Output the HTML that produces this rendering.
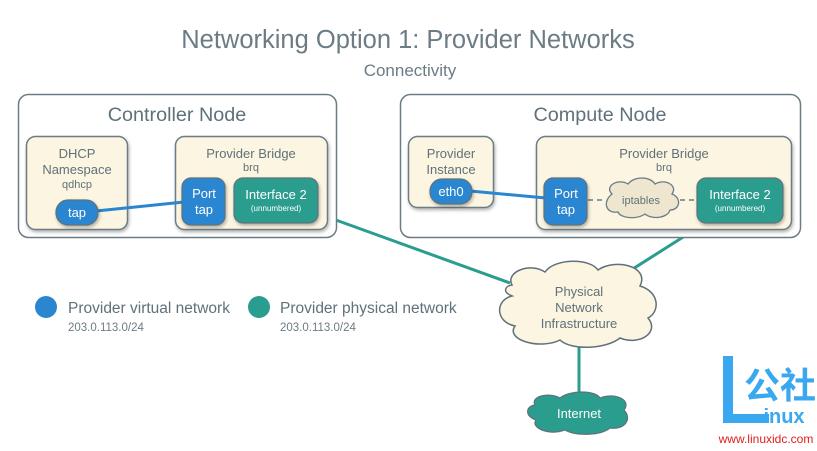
<!DOCTYPE html>
<html><head><meta charset="utf-8"><style>body{margin:0;background:#fff}svg{display:block}text{font-family:"Liberation Sans","Noto Sans CJK SC",sans-serif}</style></head><body>
<svg width="817" height="451" viewBox="0 0 817 451" xmlns="http://www.w3.org/2000/svg">
<defs><filter id="s" x="-20%" y="-20%" width="140%" height="140%"><feDropShadow dx="1" dy="2" stdDeviation="1.5" flood-color="#000" flood-opacity="0.3"/></filter></defs>
<text x="408" y="48" font-size="25.5" fill="#6b7c85" text-anchor="middle">Networking Option 1: Provider Networks</text>
<text x="410" y="76" font-size="17" fill="#6b7c85" text-anchor="middle">Connectivity</text>
<line x1="322" y1="215" x2="510" y2="283" stroke="#2a9d8f" stroke-width="3"/>
<line x1="710" y1="220" x2="628" y2="272" stroke="#2a9d8f" stroke-width="3"/>
<line x1="579" y1="340" x2="579" y2="400" stroke="#2a9d8f" stroke-width="3"/>
<rect x="18.5" y="94.5" width="318" height="143" rx="10" fill="#fff" stroke="#6b7c85" stroke-width="1.5"/>
<text x="177" y="121" font-size="19.8" fill="#5f717a" text-anchor="middle">Controller Node</text>
<rect x="26.5" y="136.5" width="101" height="93" rx="9" fill="#fcf5e1" stroke="#6b7c85" stroke-width="1.5" filter="url(#s)"/>
<text x="77" y="158" font-size="13" fill="#5f717a" text-anchor="middle">DHCP</text>
<text x="77" y="174" font-size="13" fill="#5f717a" text-anchor="middle">Namespace</text>
<text x="77" y="188" font-size="11" fill="#5f717a" text-anchor="middle">qdhcp</text>
<rect x="175.5" y="136.5" width="152" height="93" rx="9" fill="#fcf5e1" stroke="#6b7c85" stroke-width="1.5" filter="url(#s)"/>
<text x="251" y="158" font-size="13" fill="#5f717a" text-anchor="middle">Provider Bridge</text>
<text x="251" y="171" font-size="11" fill="#5f717a" text-anchor="middle">brq</text>
<line x1="96" y1="211" x2="184" y2="202" stroke="#2a86d0" stroke-width="3"/>
<rect x="56" y="200" width="42" height="25" rx="12" fill="#2a86d0" stroke="#5f717a" stroke-width="1.2" filter="url(#s)"/>
<text x="77" y="217" font-size="13" fill="#fff" text-anchor="middle">tap</text>
<rect x="182" y="178" width="43" height="47" rx="9" fill="#2a86d0" stroke="#5f717a" stroke-width="1.2" filter="url(#s)"/>
<text x="204" y="198" font-size="13" fill="#fff" text-anchor="middle">Port</text>
<text x="204" y="214" font-size="13" fill="#fff" text-anchor="middle">tap</text>
<rect x="234" y="178" width="84" height="45" rx="9" fill="#2a9d8f" stroke="#5f717a" stroke-width="1.2" filter="url(#s)"/>
<text x="276" y="199" font-size="13" fill="#fff" text-anchor="middle">Interface 2</text>
<text x="276" y="211" font-size="8" fill="#fff" text-anchor="middle">(unnumbered)</text>
<rect x="400.5" y="94.5" width="400" height="143" rx="10" fill="#fff" stroke="#6b7c85" stroke-width="1.5"/>
<text x="600" y="121" font-size="19.8" fill="#5f717a" text-anchor="middle">Compute Node</text>
<rect x="408.5" y="136.5" width="85" height="71" rx="9" fill="#fcf5e1" stroke="#6b7c85" stroke-width="1.5" filter="url(#s)"/>
<text x="451" y="158" font-size="13" fill="#5f717a" text-anchor="middle">Provider</text>
<text x="451" y="174" font-size="13" fill="#5f717a" text-anchor="middle">Instance</text>
<rect x="536.5" y="136.5" width="255" height="93" rx="9" fill="#fcf5e1" stroke="#6b7c85" stroke-width="1.5" filter="url(#s)"/>
<text x="664" y="158" font-size="13" fill="#5f717a" text-anchor="middle">Provider Bridge</text>
<text x="664" y="171" font-size="11" fill="#5f717a" text-anchor="middle">brq</text>
<line x1="470" y1="191" x2="546" y2="198" stroke="#2a86d0" stroke-width="3"/>
<line x1="588" y1="200" x2="605" y2="200" stroke="#6b7c85" stroke-width="1.5" stroke-dasharray="5,4"/>
<line x1="680" y1="200" x2="697" y2="200" stroke="#6b7c85" stroke-width="1.5" stroke-dasharray="5,4"/>
<rect x="430" y="179" width="42" height="25" rx="12" fill="#2a86d0" stroke="#5f717a" stroke-width="1.2" filter="url(#s)"/>
<text x="451" y="196" font-size="13" fill="#fff" text-anchor="middle">eth0</text>
<rect x="544" y="178" width="43" height="47" rx="9" fill="#2a86d0" stroke="#5f717a" stroke-width="1.2" filter="url(#s)"/>
<text x="566" y="198" font-size="13" fill="#fff" text-anchor="middle">Port</text>
<text x="566" y="214" font-size="13" fill="#fff" text-anchor="middle">tap</text>
<path d="M612,194 C604,186 618,178 628,184 C634,176 650,176 655,184 C666,178 678,186 672,194 C682,198 680,210 670,210 C668,218 652,220 645,214 C636,220 620,218 618,212 C606,214 602,202 612,194 Z" fill="#efe6cf" stroke="#6b7c85" stroke-width="1.3"/>
<text x="641" y="204" font-size="11" fill="#5f717a" text-anchor="middle">iptables</text>
<rect x="697" y="178" width="86" height="45" rx="9" fill="#2a9d8f" stroke="#5f717a" stroke-width="1.2" filter="url(#s)"/>
<text x="740" y="199" font-size="13" fill="#fff" text-anchor="middle">Interface 2</text>
<text x="740" y="211" font-size="8" fill="#fff" text-anchor="middle">(unnumbered)</text>
<path d="M512,285 C505,272 530,262 545,272 C555,258 590,258 598,270 C615,258 650,266 640,286 C660,292 660,312 648,318 C660,332 640,346 620,338 C605,350 570,350 560,340 C540,350 505,340 515,326 C495,322 495,300 512,296 C502,292 505,286 512,285 Z" fill="#fcf5e1" stroke="#5f717a" stroke-width="1.5"/>
<text x="579" y="296" font-size="13" fill="#5f717a" text-anchor="middle">Physical</text>
<text x="579" y="312" font-size="13" fill="#5f717a" text-anchor="middle">Network</text>
<text x="579" y="328" font-size="13" fill="#5f717a" text-anchor="middle">Infrastructure</text>
<path d="M535,405 C530,396 550,392 560,398 C570,390 595,390 600,398 C615,392 632,400 624,410 C632,418 626,430 610,428 C600,436 575,436 565,430 C550,436 530,428 536,420 C524,416 526,406 535,405 Z" fill="#2a9d8f" stroke="#5f717a" stroke-width="1.2"/>
<text x="579" y="418" font-size="13" fill="#fff" text-anchor="middle">Internet</text>
<circle cx="46" cy="307" r="11" fill="#2a86d0"/>
<text x="68" y="313" font-size="15.5" fill="#5f717a">Provider virtual network</text>
<text x="68" y="331" font-size="11.5" fill="#6b7c85">203.0.113.0/24</text>
<circle cx="259" cy="307" r="11" fill="#2a9d8f"/>
<text x="280" y="313" font-size="15.5" fill="#5f717a">Provider physical network</text>
<text x="280" y="331" font-size="11.5" fill="#6b7c85">203.0.113.0/24</text>
<path d="M723,356 h10 v58 h36 v9 h-46 Z" fill="#3aa8f0"/>
<text x="780" y="398" font-size="36" font-weight="bold" fill="#3aa8f0" text-anchor="middle">公社</text>
<text x="784" y="423" font-size="20" font-weight="bold" fill="#3aa8f0" text-anchor="middle">inux</text>
<text x="766" y="443" font-size="12" fill="#e0201b" text-anchor="middle">www.linuxidc.com</text>
</svg>
</body></html>
